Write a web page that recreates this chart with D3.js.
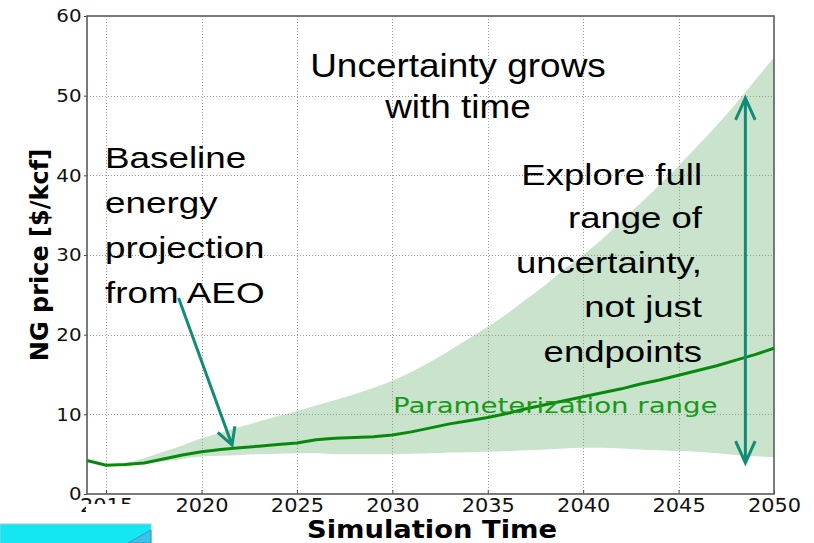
<!DOCTYPE html>
<html>
<head>
<meta charset="utf-8">
<script src="https://cdn.jsdelivr.net/npm/d3@7"></script>
<style>
  html, body { margin: 0; padding: 0; background: #fff; }
  svg { display: block; }
</style>
</head>
<body>
<svg id="chart" width="814" height="543"></svg>
<script>
// ---------- data ----------
const years = [2014,2015,2016,2017,2018,2019,2020,2021,2022,2023,2024,2025,2026,2027,2028,2029,2030,2031,2032,2033,2034,2035,2036,2037,2038,2039,2040,2041,2042,2043,2044,2045,2046,2047,2048,2049,2050];
const baseline = [4.2,3.6,3.7,3.9,4.4,4.9,5.3,5.6,5.8,6.0,6.2,6.4,6.8,7.0,7.1,7.2,7.4,7.8,8.3,8.8,9.2,9.6,10.1,10.7,11.2,11.7,12.2,12.7,13.2,13.8,14.3,14.9,15.5,16.1,16.8,17.5,18.3];
const bandYears = [2015,2016,2017,2018,2019,2020,2021,2022,2023,2024,2025,2026,2027,2028,2029,2030,2031,2032,2033,2034,2035,2036,2037,2038,2039,2040,2041,2042,2043,2044,2045,2046,2047,2048,2049,2050];
const bandUpper = [3.6,3.9,4.5,5.3,6.1,7.0,7.7,8.4,9.1,9.8,10.4,11.1,11.8,12.5,13.3,14.2,15.3,16.6,18.0,19.5,21.0,22.6,24.4,26.2,28.2,30.0,32.0,34.3,36.5,38.8,41.2,43.7,46.3,49.0,51.9,54.8];
const bandLower = [3.6,3.6,3.8,4.1,4.4,4.7,4.8,4.9,5.0,5.05,5.1,5.1,5.0,5.0,5.0,5.0,5.05,5.1,5.2,5.25,5.3,5.4,5.5,5.6,5.7,5.8,5.8,5.7,5.6,5.5,5.4,5.3,5.1,4.9,4.75,4.6];
const xTicks = [2015,2020,2025,2030,2035,2040,2045,2050];
const yTicks = [0,10,20,30,40,50,60];
const xGrid = [2015,2020,2025,2030,2035,2040,2045];
const yGrid = [10,20,30,40,50];
const xTitle = "Simulation Time";
const yTitle = "NG price [$/kcf]";
const topNote = ["Uncertainty grows", "with time"];
const leftNote = ["Baseline", "energy", "projection", "from AEO"];
const rightNote = ["Explore full", "range of", "uncertainty,", "not just", "endpoints"];
const bandLabel = "Parameterization range";
// annotation arrows in data coordinates
const arrowAEO = { from: [2018.8, 24.6], to: [2021.6, 6.15] };
const arrowRange = { x: 2048.5, top: 49.7, bottom: 3.9 };

// ---------- layout ----------
const svg = d3.select("#chart");
const M = { left: 87, right: 774, top: 16, bottom: 494 };
const x = d3.scaleLinear().domain([2014, 2050]).range([M.left, M.right]);
const y = d3.scaleLinear().domain([0, 60]).range([M.bottom, M.top]);

const sans = "'Liberation Sans', Arial, sans-serif";
const dv = "'DejaVu Sans', sans-serif";

svg.append("rect").attr("width", 814).attr("height", 543).attr("fill", "#fff");

// band
const bandData = bandYears.map((yr, i) => ({ yr, lo: bandLower[i], hi: bandUpper[i] }));
svg.append("path")
  .datum(bandData)
  .attr("fill", "#c9e3cd")
  .attr("d", d3.area().curve(d3.curveMonotoneX).x(d => x(d.yr)).y0(d => y(d.lo)).y1(d => y(d.hi)));

// grid
const grid = svg.append("g").attr("stroke", "#9a9a9a").attr("stroke-width", 1).attr("stroke-dasharray", "1,2");
grid.selectAll(".vg").data(xGrid).join("line")
  .attr("x1", d => Math.round(x(d)) + 0.5).attr("x2", d => Math.round(x(d)) + 0.5)
  .attr("y1", M.top).attr("y2", M.bottom);
grid.selectAll(".hg").data(yGrid).join("line")
  .attr("y1", d => Math.round(y(d)) + 0.5).attr("y2", d => Math.round(y(d)) + 0.5)
  .attr("x1", M.left).attr("x2", M.right);

// baseline line
svg.append("path")
  .datum(years.map((yr, i) => [yr, baseline[i]]))
  .attr("fill", "none")
  .attr("stroke", "#078a0c")
  .attr("stroke-width", 3)
  .attr("stroke-linejoin", "round")
  .attr("d", d3.line().x(d => x(d[0])).y(d => y(d[1])));

// axes
const xAxis = svg.append("g").attr("transform", `translate(0,${M.bottom})`)
  .call(d3.axisBottom(x).tickValues(xTicks).tickFormat(d3.format("d")).tickSize(-4).tickPadding(6));
xAxis.select(".domain").remove();
xAxis.selectAll("line").attr("stroke", "#444");
xAxis.selectAll("text")
  .attr("font-family", dv).attr("font-size", 19).attr("fill", "#111")
  .attr("y", 18).attr("dy", 0)
  .attr("transform", "scale(1.1,1)");

const yAxis = svg.append("g").attr("transform", `translate(${M.left},0)`)
  .call(d3.axisLeft(y).tickValues(yTicks).tickSize(3).tickPadding(2));
yAxis.select(".domain").remove();
yAxis.selectAll("line").attr("stroke", "#444");
yAxis.selectAll("text")
  .attr("font-family", dv).attr("font-size", 18).attr("fill", "#111")
  .attr("transform", "scale(1.1,1)");

// frame
svg.append("rect")
  .attr("x", M.left).attr("y", M.top)
  .attr("width", M.right - M.left).attr("height", M.bottom - M.top)
  .attr("fill", "none").attr("stroke", "#5a5a5a").attr("stroke-width", 1.6);

// partially hidden first x label, like the reference
svg.append("rect").attr("x", 86).attr("y", 504).attr("width", 52).attr("height", 16).attr("fill", "#fff");

// axis titles
svg.append("text")
  .attr("transform", "translate(432,538) scale(1.14,1)")
  .attr("text-anchor", "middle")
  .attr("font-family", dv).attr("font-weight", "bold").attr("font-size", 24).attr("fill", "#000")
  .text(xTitle);
svg.append("text")
  .attr("transform", "translate(48,255) rotate(-90)")
  .attr("text-anchor", "middle")
  .attr("font-family", dv).attr("font-weight", "bold").attr("font-size", 24).attr("fill", "#000")
  .text(yTitle);

// band label
svg.append("text")
  .attr("transform", "translate(393,413) scale(1.255,1)")
  .attr("font-family", dv).attr("font-size", 22).attr("fill", "#169a16")
  .text(bandLabel);

// notes
function block(lines, tx, baselines, size, sx, anchor) {
  const g = svg.append("g").attr("transform", `translate(${tx},0) scale(${sx},1)`);
  g.selectAll("text").data(lines).join("text")
    .attr("x", 0).attr("y", (d, i) => baselines[i])
    .attr("text-anchor", anchor)
    .attr("font-family", sans).attr("font-size", size).attr("fill", "#000")
    .text(d => d);
}
block(topNote, 458, [77, 118], 33, 1.12, "middle");
block(leftNote, 105, [168, 213, 258, 303], 29, 1.27, "start");
block(rightNote, 702, [185, 228, 273, 317, 362], 29, 1.26, "end");

// arrows
const teal = "#128c76";
function head(tip, from, len, ang) {
  const dx = from[0] - tip[0], dy = from[1] - tip[1];
  const L = Math.hypot(dx, dy), ux = dx / L, uy = dy / L;
  const pts = [ang, -ang].map(a => {
    const c = Math.cos(a), s = Math.sin(a);
    return [tip[0] + len * (ux * c - uy * s), tip[1] + len * (ux * s + uy * c)];
  });
  return `M${pts[0][0]},${pts[0][1]}L${tip[0]},${tip[1]}L${pts[1][0]},${pts[1][1]}`;
}
const a1s = [x(arrowAEO.from[0]), y(arrowAEO.from[1])];
const a1e = [x(arrowAEO.to[0]), y(arrowAEO.to[1])];
svg.append("path")
  .attr("d", `M${a1s[0]},${a1s[1]}L${a1e[0]},${a1e[1]}` + head(a1e, a1s, 19, 0.5))
  .attr("fill", "none").attr("stroke", teal).attr("stroke-width", 3).attr("stroke-linejoin", "miter");

const a2t = [x(arrowRange.x), y(arrowRange.top)];
const a2b = [x(arrowRange.x), y(arrowRange.bottom)];
svg.append("path")
  .attr("d", `M${a2t[0]},${a2t[1]}L${a2b[0]},${a2b[1]}` + head(a2t, a2b, 24, 0.42) + head(a2b, a2t, 24, 0.42))
  .attr("fill", "none").attr("stroke", teal).attr("stroke-width", 3);

// slide decoration bottom-left
svg.append("rect").attr("x", 0).attr("y", 524).attr("width", 151).attr("height", 20)
  .attr("fill", "#14e6f2").attr("stroke", "#9fc9cf").attr("stroke-width", 1);
svg.append("path").attr("d", "M128,543L151,530L151,543Z").attr("fill", "#33c6ec").attr("stroke", "#4d8fb3").attr("stroke-width", 1);
</script>
</body>
</html>
